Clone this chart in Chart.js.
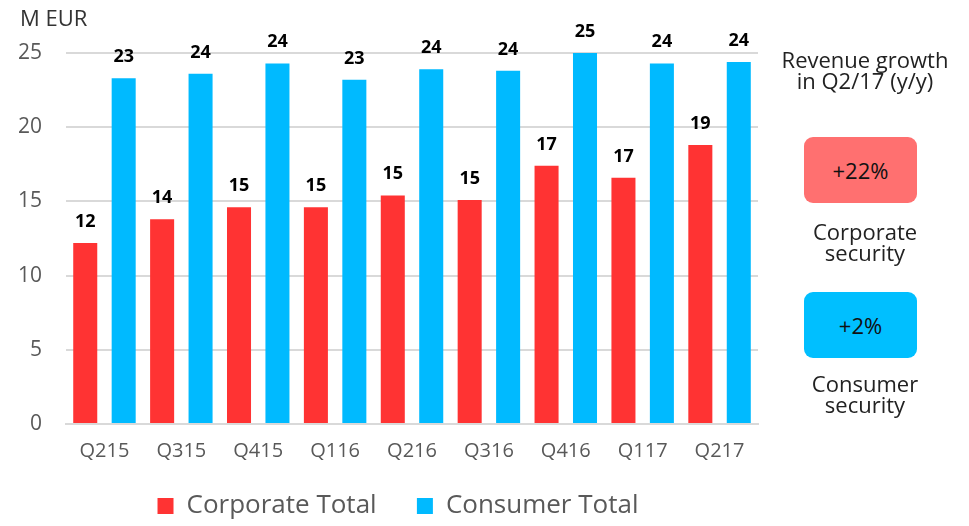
<!DOCTYPE html>
<html>
<head>
<meta charset="utf-8">
<script src="https://cdn.jsdelivr.net/npm/chart.js@4"></script>
<style>
    html, body { margin: 0; padding: 0; background: #fff; }
    #wrap { position: relative; width: 969px; height: 526px; font-family: "Open Sans", sans-serif; }
    #unit { position: absolute; left: 20px; top: 2px; font-size: 22px; color: #333; }
    .side { position: absolute; left: 765px; width: 200px; text-align: center; color: #222; font-size: 22px; line-height: 21px; }
    .box { position: absolute; left: 804px; width: 113px; height: 66px; border-radius: 9px; color: #111; font-size: 22px; line-height: 66px; text-align: center; }
</style>
</head>
<body>
<div id="wrap">
    <canvas id="revChart" width="969" height="526"></canvas>
    <div id="unit">M EUR</div>
    <div class="side" style="top:49px">Revenue growth<br>in Q2/17 (y/y)</div>
    <div class="box" style="top:137px;background:#ff7070">+22%</div>
    <div class="side" style="top:221px">Corporate<br>security</div>
    <div class="box" style="top:292px;background:#00bfff">+2%</div>
    <div class="side" style="top:373px">Consumer<br>security</div>
</div>
<script>
// Quarterly revenue, M EUR
const quarters = ['Q215', 'Q315', 'Q415', 'Q116', 'Q216', 'Q316', 'Q416', 'Q117', 'Q217'];
const corporateTotal = [12.2, 13.8, 14.6, 14.6, 15.4, 15.1, 17.4, 16.6, 18.8];
const consumerTotal = [23.3, 23.6, 24.3, 23.2, 23.9, 23.8, 25.0, 24.3, 24.4];
const yTicks = [0, 5, 10, 15, 20, 25];

const RED = '#ff3333';
const BLUE = '#00baff';
const GREY = '#595959';
const FONT = '"Open Sans", sans-serif';

// Rounded value labels above each bar
const barLabels = {
    id: 'barLabels',
    afterDatasetsDraw(chart) {
        const ctx = chart.ctx;
        ctx.save();
        ctx.font = 'bold 18px ' + FONT;
        ctx.fillStyle = '#000';
        ctx.textAlign = 'center';
        ctx.textBaseline = 'alphabetic';
        chart.data.datasets.forEach((ds, i) => {
            chart.getDatasetMeta(i).data.forEach((bar, j) => {
                ctx.fillText(Math.round(ds.data[j]), bar.x, bar.y - 16);
            });
        });
        ctx.restore();
    }
};

// Nudge the legend a bit right/down, like the original slide
const legendShift = {
    id: 'legendShift',
    afterLayout(chart) {
        const lg = chart.legend;
        lg.left += 22; lg.right += 22;
        lg.top += 3; lg.bottom += 3;
    }
};

new Chart(document.getElementById('revChart').getContext('2d'), {
    type: 'bar',
    data: {
        labels: quarters,
        datasets: [
            { label: 'Corporate Total', data: corporateTotal, backgroundColor: RED, categoryPercentage: 1.0, barPercentage: 0.625 },
            { label: 'Consumer Total', data: consumerTotal, backgroundColor: BLUE, categoryPercentage: 1.0, barPercentage: 0.625 }
        ]
    },
    options: {
        responsive: false,
        animation: false,
        layout: { padding: { left: -6, right: 211, top: 53, bottom: 0 } },
        plugins: {
            legend: {
                position: 'bottom',
                labels: {
                    color: GREY,
                    font: { size: 26, family: FONT },
                    boxWidth: 16, boxHeight: 16, padding: 20,
                    // extra spaces to widen the gap between the two items
                    generateLabels: chart => Chart.defaults.plugins.legend.labels.generateLabels(chart)
                        .map((item, i) => Object.assign(item, { text: i === 0 ? item.text + '   ' : item.text }))
                }
            },
            tooltip: { enabled: false }
        },
        scales: {
            x: {
                grid: { display: false },
                border: { color: '#d9d9d9', width: 2 },
                ticks: { color: GREY, font: { size: 20, family: FONT }, padding: 7 }
            },
            y: {
                min: 0, max: 25,
                afterBuildTicks: axis => { axis.ticks = yTicks.map(v => ({ value: v })); },
                grid: { color: '#d9d9d9', lineWidth: 2, drawTicks: false },
                border: { display: false },
                ticks: { color: GREY, font: { size: 21, family: FONT }, padding: 24 }
            }
        }
    },
    plugins: [barLabels, legendShift]
});
</script>
</body>
</html>
